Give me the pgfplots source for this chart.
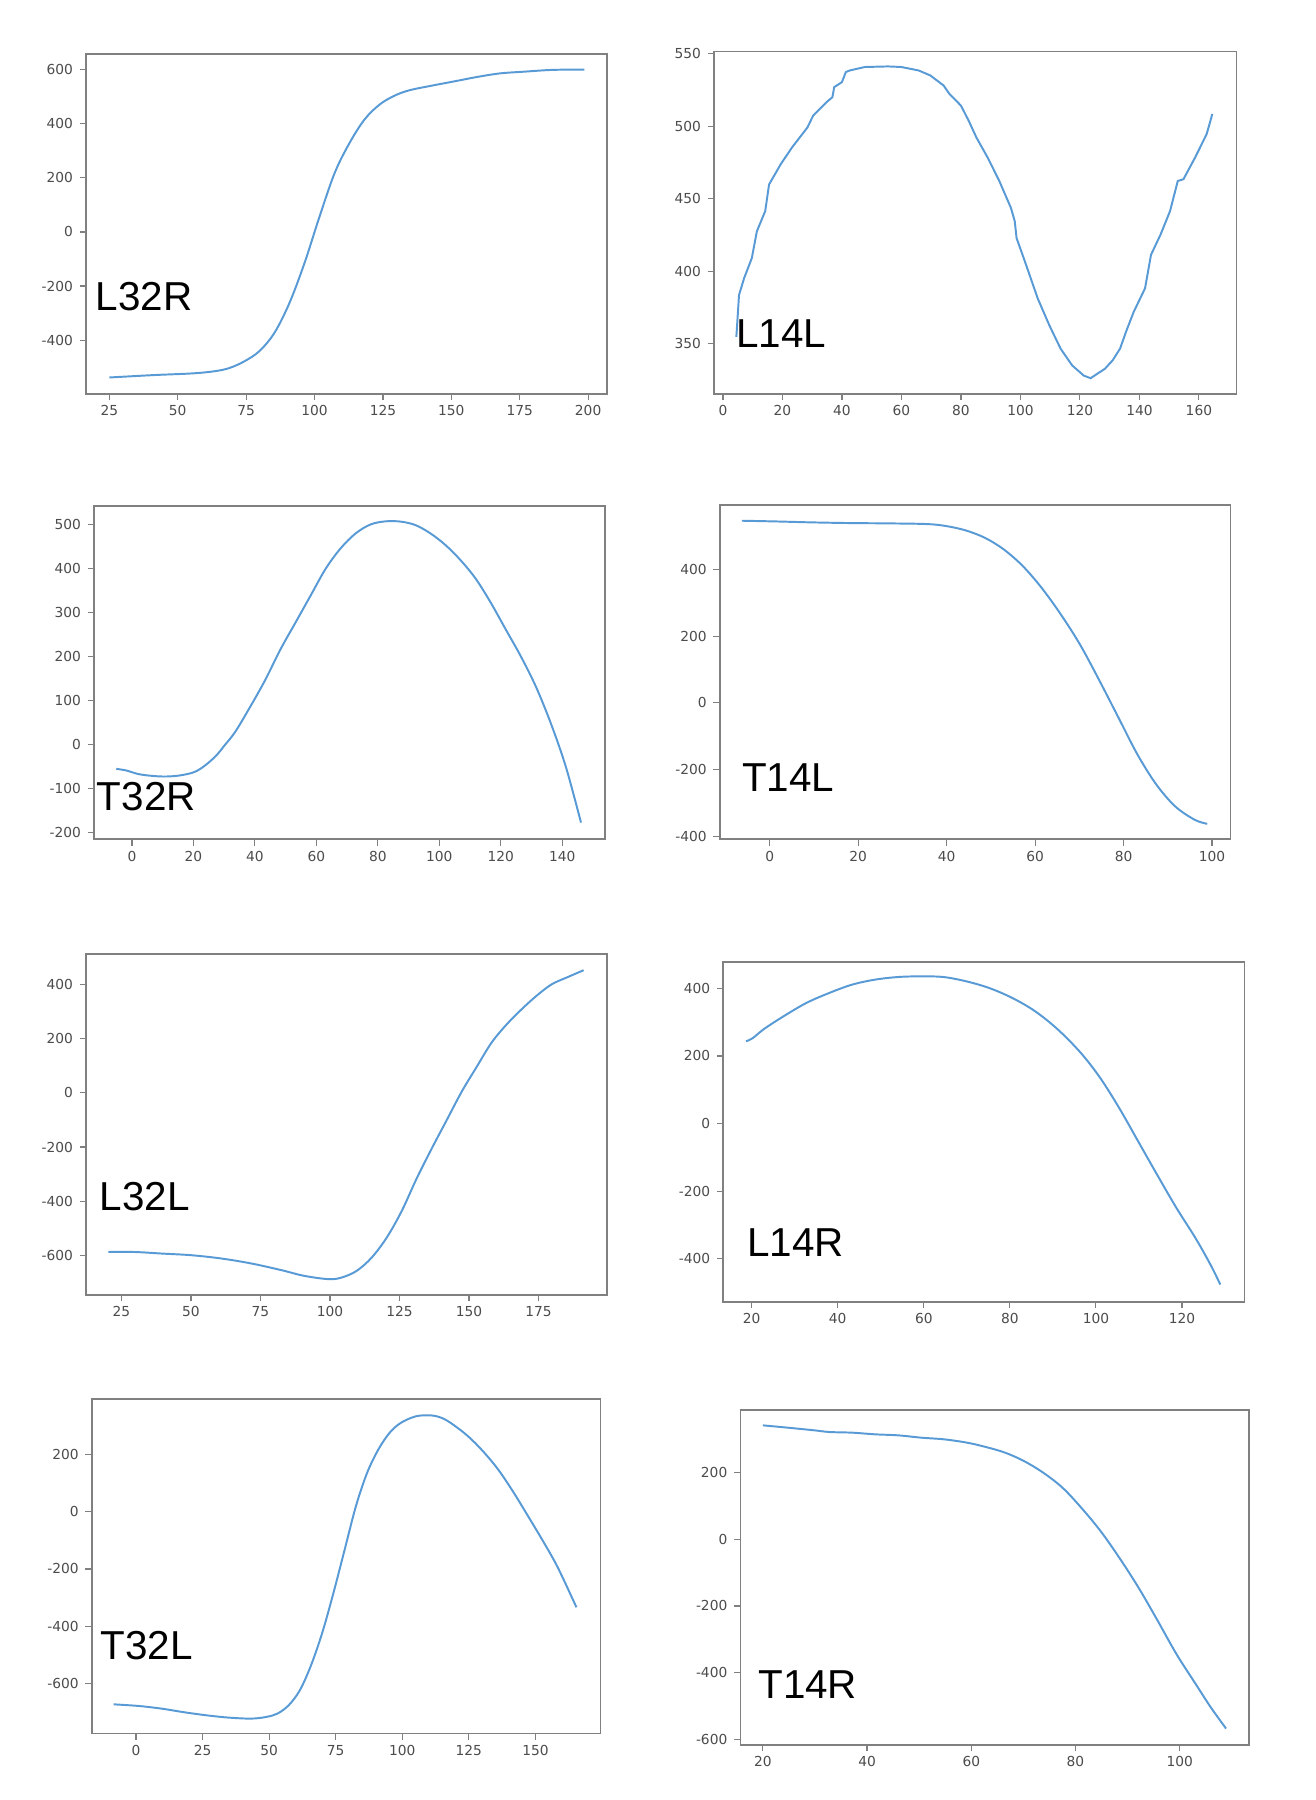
\documentclass[border=0pt]{standalone}
\usepackage{fontspec}
\setmainfont{DejaVu Sans}
\newfontfamily\labelfont{Liberation Sans}
\usepackage{pgfplots}
\pgfplotsset{compat=1.18}
\definecolor{framegray}{RGB}{128,128,128}
\definecolor{lineblue}{RGB}{88,154,213}
\pgfplotsset{
  panel/.style={
    scale only axis, anchor=north west,
    axis line style={draw=framegray, line width=0.75pt},
    tick style={draw=framegray, line width=0.5pt},
    tick align=outside, major tick length=2.8pt, tick pos=left,
    tick label style={font=\fontsize{6}{7}\selectfont, text=black!70},
    scaled ticks=false,
    /pgf/number format/assume math mode=true,
    /pgf/number format/1000 sep={},
    xticklabel style={yshift=1.2pt},
    yticklabel style={xshift=0.6pt},
  },
  curve/.style={lineblue, line width=0.85pt, no marks, smooth, tension=0.55},
}
\begin{document}
\begin{tikzpicture}
\fill[white] (0,0) rectangle (573pt,784pt);
\path[use as bounding box] (0,0) rectangle (573pt,784pt);

% L32R
\begin{axis}[panel, at={(37.5pt,760.5pt)}, width=227pt, height=148pt,
  xmin=16.5, xmax=207, ymin=-598, ymax=658,
  xtick={25,50,...,200}, ytick={-400,-200,...,600}]
\addplot[curve] coordinates {
(25,-538)(41.5,-529)(55.2,-523)(63.4,-515)(68.9,-503)(74.4,-478)(79.9,-440)
(85.4,-372)(90.9,-261)(96.4,-113)(101.9,59)(107.4,219)(112.8,329)(118.3,416)
(123.8,471)(129.3,504)(134.8,524)(143,541)(151.3,557)(159.5,573)(167.7,586)
(176,592)(187,599)(198.6,600)};
\end{axis}

% L14L
\begin{axis}[panel, at={(311pt,761.5pt)}, width=227.5pt, height=149pt,
  xmin=-3, xmax=172.6, ymin=315.5, ymax=551.4,
  xtick={0,20,...,160}, ytick={350,400,...,550}]
\addplot[lineblue, line width=0.85pt, no marks] coordinates {
(4.5,354.7)(4.9,367.4)(5.4,383.6)(7.1,395.1)(9.7,409)(11.4,427.5)(14.2,441.4)
(15.5,459.8)(19.4,473.7)(23.2,485.3)(28.4,499.1)(30.3,507.2)(34.8,516.5)
(36.8,520)(37.4,526.9)(40,530.4)(41.3,537.3)(42.6,538.4)(47.7,540.8)(55.5,541.2)
(60,540.8)(65.8,538.4)(69.7,535)(74.2,528)(76.1,522.3)(80,514.2)(82.6,503.8)
(85.2,492.2)(89,478.3)(92.9,462.2)(96.8,443.7)(98.1,434.4)(98.7,422.9)
(101.9,404.4)(105.8,381.3)(109.7,362.8)(113.5,346.6)(117.4,335)(121.3,328)
(123.6,326.2)(125.8,329.2)(128.4,332.7)(131,338.5)(133.5,346.6)(135.5,358.2)
(138.1,372)(141.9,388.2)(143.9,411.3)(147.1,425.2)(150.3,441.4)(152.9,462.2)
(154.8,463.4)(158.7,478.3)(162.6,494.5)(163.9,503.8)(164.5,508.4)};
\end{axis}

% T32R
\begin{axis}[panel, at={(41pt,563.5pt)}, width=222.5pt, height=145pt,
  xmin=-12.3, xmax=153.9, ymin=-216, ymax=542,
  xtick={0,20,...,140}, ytick={-200,-100,...,500}]
\addplot[curve] coordinates {
(-5.1,-55.9)(-1.8,-59.7)(1.8,-67.3)(5.5,-71.2)(10.4,-73.4)(15.3,-71.2)
(20.2,-63.5)(23.8,-48.2)(27.5,-25.2)(29.9,-4.5)(33.6,28.3)(38.5,85.7)
(43.4,146.9)(48.3,215.8)(53.2,277)(58.1,338.2)(63,399.4)(67.8,445.3)
(72.7,479.7)(77.6,500.4)(82.5,507.6)(87.4,507)(92.3,498.9)(97.2,479.7)
(102.1,453)(107,418.5)(111.9,376.4)(116.7,322.9)(121.6,261.7)(126.5,200.5)
(131.4,131.6)(136.3,47.4)(141.2,-52)(146.1,-178.3)};
\end{axis}

% T14L
\begin{axis}[panel, at={(313.5pt,564pt)}, width=222.5pt, height=145.5pt,
  xmin=-11.3, xmax=104.2, ymin=-409, ymax=594,
  xtick={0,20,...,100}, ytick={-400,-200,...,400}]
\addplot[curve] coordinates {
(-6.3,547)(1,545)(9.7,542)(18.3,540)(27,539)(35.6,537)(39.9,531)(44.3,518)
(48.6,496)(52.9,461)(57.2,411)(61.5,345)(65.9,264)(70.2,174)(74.5,68)
(78.8,-43)(83.1,-154)(87.4,-245)(91.7,-311)(96.1,-351)(98.9,-363)};
\end{axis}

% L32L
\begin{axis}[panel, at={(37.5pt,368.5pt)}, width=227pt, height=148.5pt,
  xmin=12.3, xmax=199.7, ymin=-745, ymax=512,
  xtick={25,50,...,175}, ytick={-600,-400,...,400}]
\addplot[curve] coordinates {
(20.3,-586.5)(30,-587)(39.4,-592.6)(50.2,-598.8)(61,-611)(71.8,-629.4)
(82.6,-654)(90.7,-674.8)(99.5,-687)(104.2,-681)(109.6,-656.4)(115,-607.4)
(120.4,-533.7)(125.8,-435.6)(131.2,-315)(136.6,-205)(142,-100)(147.4,5)
(152.7,95)(158.1,185)(163.5,252)(168.9,308)(174.3,358)(179.7,400)
(185.1,425)(191.2,452)};
\end{axis}

% L14R
\begin{axis}[panel, at={(315pt,365pt)}, width=227pt, height=148pt,
  xmin=13.4, xmax=134.5, ymin=-527, ymax=478,
  xtick={20,40,...,120}, ytick={-400,-200,...,400}]
\addplot[curve] coordinates {
(18.7,243.3)(20.3,253.2)(22.9,280)(27.4,317.2)(32.7,356.7)(38,386.2)
(43.3,410.8)(48.6,425.6)(54,433.5)(59.4,435.5)(64.6,433.5)(69.9,420.7)
(75.2,401)(80.6,371.4)(85.9,332)(91.2,277.8)(96.5,208.9)(101,135)(105.4,46.3)
(109.8,-52.2)(114.2,-150.7)(118.7,-249.3)(123.1,-337.9)(126.6,-416.7)
(128.9,-475.9)};
\end{axis}

% T32L
\begin{axis}[panel, at={(40pt,174.5pt)}, width=221.5pt, height=145.5pt,
  xmin=-16.6, xmax=174.4, ymin=-774, ymax=392,
  xtick={0,25,...,150}, ytick={-600,-400,...,200}]
\addplot[curve] coordinates {
(-8.4,-672.5)(1.1,-678.3)(9.6,-687.5)(18,-700)(26.4,-710.7)(34.8,-718.8)
(43.3,-722.3)(48.9,-716.5)(53.1,-704.9)(57.3,-676)(61.5,-623.8)(65.7,-536.8)
(70,-420.9)(74.2,-281.7)(78.4,-131)(82.6,19.7)(86.8,135.7)(91,216.8)
(95.2,274.8)(99.4,309.6)(105.1,332.8)(110.7,336)(114.9,327)(119.1,303.8)
(124.7,263.2)(130.3,211)(136,147.2)(141.6,70)(147.2,-15.1)(152.8,-102)
(158.4,-194.8)(165.4,-333.9)};
\end{axis}

% T14R
\begin{axis}[panel, at={(322.5pt,170pt)}, width=221.5pt, height=146pt,
  xmin=15.7, xmax=113.3, ymin=-617, ymax=389,
  xtick={20,40,...,100}, ytick={-600,-400,...,200}]
\addplot[curve] coordinates {
(20,342)(24.8,335)(29.9,327)(32.8,322)(37.2,320)(41.6,315)(46,312)(50.4,305)
(54.8,300)(59.2,290)(62.8,277)(66.5,260)(70.1,235)(73.8,200)(77.5,155)
(81.1,95)(84.8,25)(88.4,-55)(92.1,-145)(95.8,-245)(99.4,-345)(103.1,-435)
(106,-505)(108.9,-568)};
\end{axis}

\begin{scope}[every node/.style={anchor=base west, inner sep=0pt, font=\labelfont\fontsize{17.6}{20}\selectfont}]
\node at (41.5pt,648.65pt) {L32R};
\node at (320.5pt,632.5pt) {L14L};
\node at (42pt,431.15pt) {T32R};
\node at (323pt,439.35pt) {T14L};
\node at (43.2pt,256.65pt) {L32L};
\node at (325.3pt,236.8pt) {L14R};
\node at (43.6pt,61pt) {T32L};
\node at (330.1pt,44.3pt) {T14R};
\end{scope}
\end{tikzpicture}
\end{document}
